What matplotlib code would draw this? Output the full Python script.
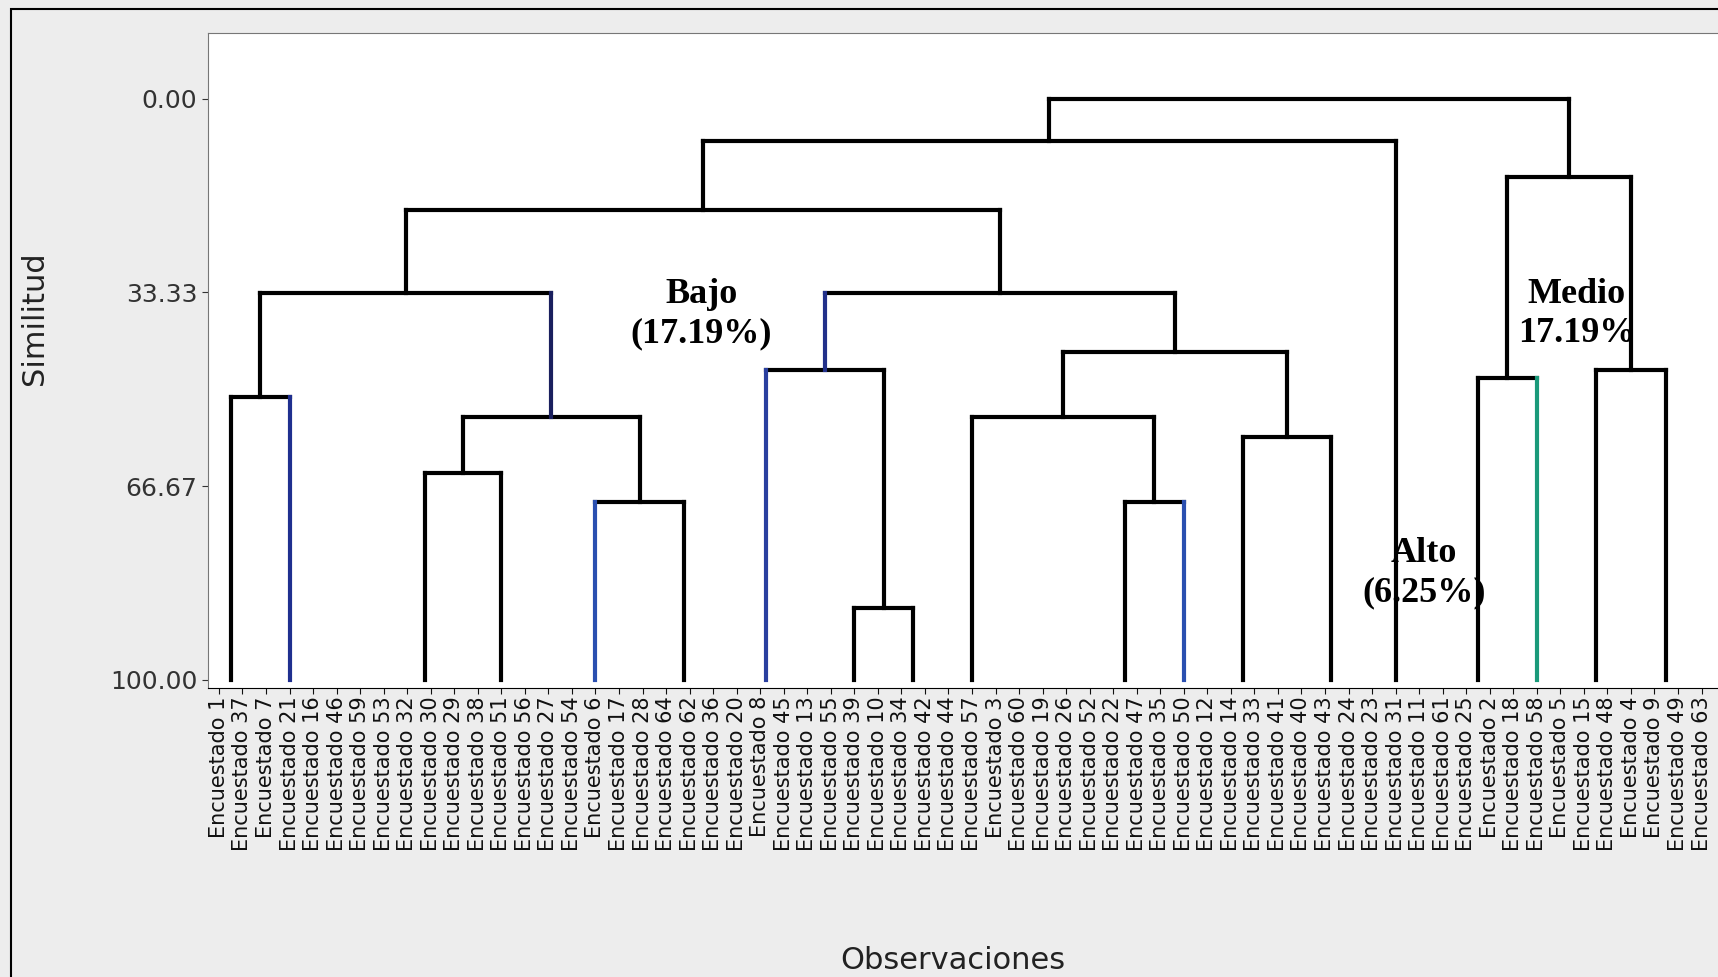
import numpy as np
import matplotlib.pyplot as plt
from matplotlib.patches import Rectangle

# Observaciones en el orden del dendrograma
etiquetas = [1, 37, 7, 21, 16, 46, 59, 53, 32, 30, 29, 38, 51, 56, 27, 54,
             6, 17, 28, 64, 62, 36, 20, 8, 45, 13, 55, 39, 10, 34, 42, 44,
             57, 3, 60, 19, 26, 52, 22, 47, 35, 50, 12, 14, 33, 41, 40, 43,
             24, 23, 31, 11, 61, 25, 2, 18, 58, 5, 15, 48, 4, 9, 49, 63]

# grupos de observaciones identicas (similitud 100), anidados
grupos = {
    'G1': [0, 1],
    'G2': [2, 3, 4],
    'G3': [[5, 6, 7, 8, 9], [10, 11]],
    'G4': [12],
    'G5': [[13, 14, 15, 16], [17, 18]],
    'G6': [19, [20, 21]],
    'G7': [[22, 23], 24],
    'G9': [[25, 26, 27], 28],
    'G10': [29, 30],
    'G11': [31, 32, 33],
    'G12': [[[34, 35, 36, 37], [38, 39]], 40],
    'G13': [41],
    'G14': [42, 43, 44, 45],
    'G15': [[46, 47], 48],
    'G16': [49, [50, 51, 52]],
    'G17': [53, 54],
    'G18': [55, 56, 57],
    'G19': [58, 59],
    'G20': [60, 61, 62, 63],
}

# uniones: (izquierda, derecha, similitud, nombre del nuevo grupo)
uniones = [
    ('G1', 'G2', 51.3, 'A'),
    ('G3', 'G4', 64.5, 'B'),
    ('G5', 'G6', 69.4, 'C'),
    ('B', 'C', 54.7, 'D'),
    ('A', 'D', 33.4, 'E'),
    ('G9', 'G10', 87.7, 'F'),
    ('G7', 'F', 46.6, 'H'),
    ('G12', 'G13', 69.4, 'I'),
    ('G11', 'I', 54.7, 'J'),
    ('G14', 'G15', 58.3, 'K'),
    ('J', 'K', 43.6, 'L'),
    ('H', 'L', 33.4, 'M'),
    ('E', 'M', 19.2, 'Bajo'),
    ('Bajo', 'G16', 7.2, 'N'),
    ('G17', 'G18', 48.1, 'O'),
    ('G19', 'G20', 46.6, 'P'),
    ('O', 'P', 13.4, 'Medio'),
    ('N', 'Medio', 0.0, 'Raiz'),
]

# algunos tramos verticales salen en azul en el original
azules = {'G2': '#1f2f8f', 'D': '#1a1f5e', 'G5': '#2a4fb0', 'G7': '#2a3f9f',
          'H': '#22308a', 'G13': '#2a4fb0', 'G18': '#1a9a7a'}

# etiquetas de los conglomerados: (texto, posicion en hojas, similitud)
textos = [("Bajo\n(17.19%)", 20.5, 37.0),
          ("Medio\n17.19%", 57.7, 37.0),
          ("Alto\n(6.25%)", 51.2, 81.6)]


def posicion(g):
    # posicion horizontal: media de los hijos (como en un dendrograma)
    if isinstance(g, list):
        return np.mean([posicion(h) for h in g])
    return float(g)


pos = {k: posicion(v) for k, v in grupos.items()}
alt = {k: 100.0 for k in grupos}

fig = plt.figure(figsize=(17.18, 9.77), dpi=100)
fig.patch.set_facecolor('#ededed')
ax = fig.add_axes([0.121, 0.296, 0.879, 0.670])
ax.set_facecolor('white')

for izq, der, sim, nombre in uniones:
    xi, xd = pos[izq], pos[der]
    ax.plot([xi, xd], [sim, sim], color='black', lw=3.0, solid_capstyle='projecting')
    for h, x in [(izq, xi), (der, xd)]:
        ax.plot([x, x], [alt[h], sim], color=azules.get(h, 'black'), lw=3.0,
                solid_capstyle='projecting')
    pos[nombre] = (xi + xd) / 2
    alt[nombre] = sim

for txt, x, y in textos:
    ax.text(x, y, txt, ha='center', va='center', fontsize=26,
            fontweight='bold', family='Liberation Serif', linespacing=1.25)

ax.set_xlim(-0.47, 63.7)
ax.set_ylim(101.4, -11.3)
ax.set_yticks([0, 33.33, 66.67, 100])
ax.set_yticklabels(["0.00", "33.33", "66.67", "100.00"])
ax.set_xticks(np.arange(len(etiquetas)))
ax.set_xticklabels(["Encuestado " + str(e) for e in etiquetas], rotation=90)
ax.tick_params(axis='x', labelsize=15, length=4, pad=2, colors='#111111')
ax.tick_params(axis='y', labelsize=18, length=4, colors='#333333')

for lado in ['top', 'left']:
    ax.spines[lado].set_color('#777777')
ax.spines['bottom'].set_color('black')
ax.spines['right'].set_visible(False)

ax.set_ylabel("Similitud", fontsize=22, color='#222222')
ax.yaxis.set_label_coords(-0.105, 0.565)
ax.set_xlabel("Observaciones", fontsize=22, color='#222222')
ax.xaxis.set_label_coords(0.493, -0.395)

fig.add_artist(Rectangle((0.0064, -0.01), 1.0, 1.001, transform=fig.transFigure,
                         fill=False, ec='black', lw=1.5))

fig.savefig("out.png", dpi=100, facecolor=fig.get_facecolor())
